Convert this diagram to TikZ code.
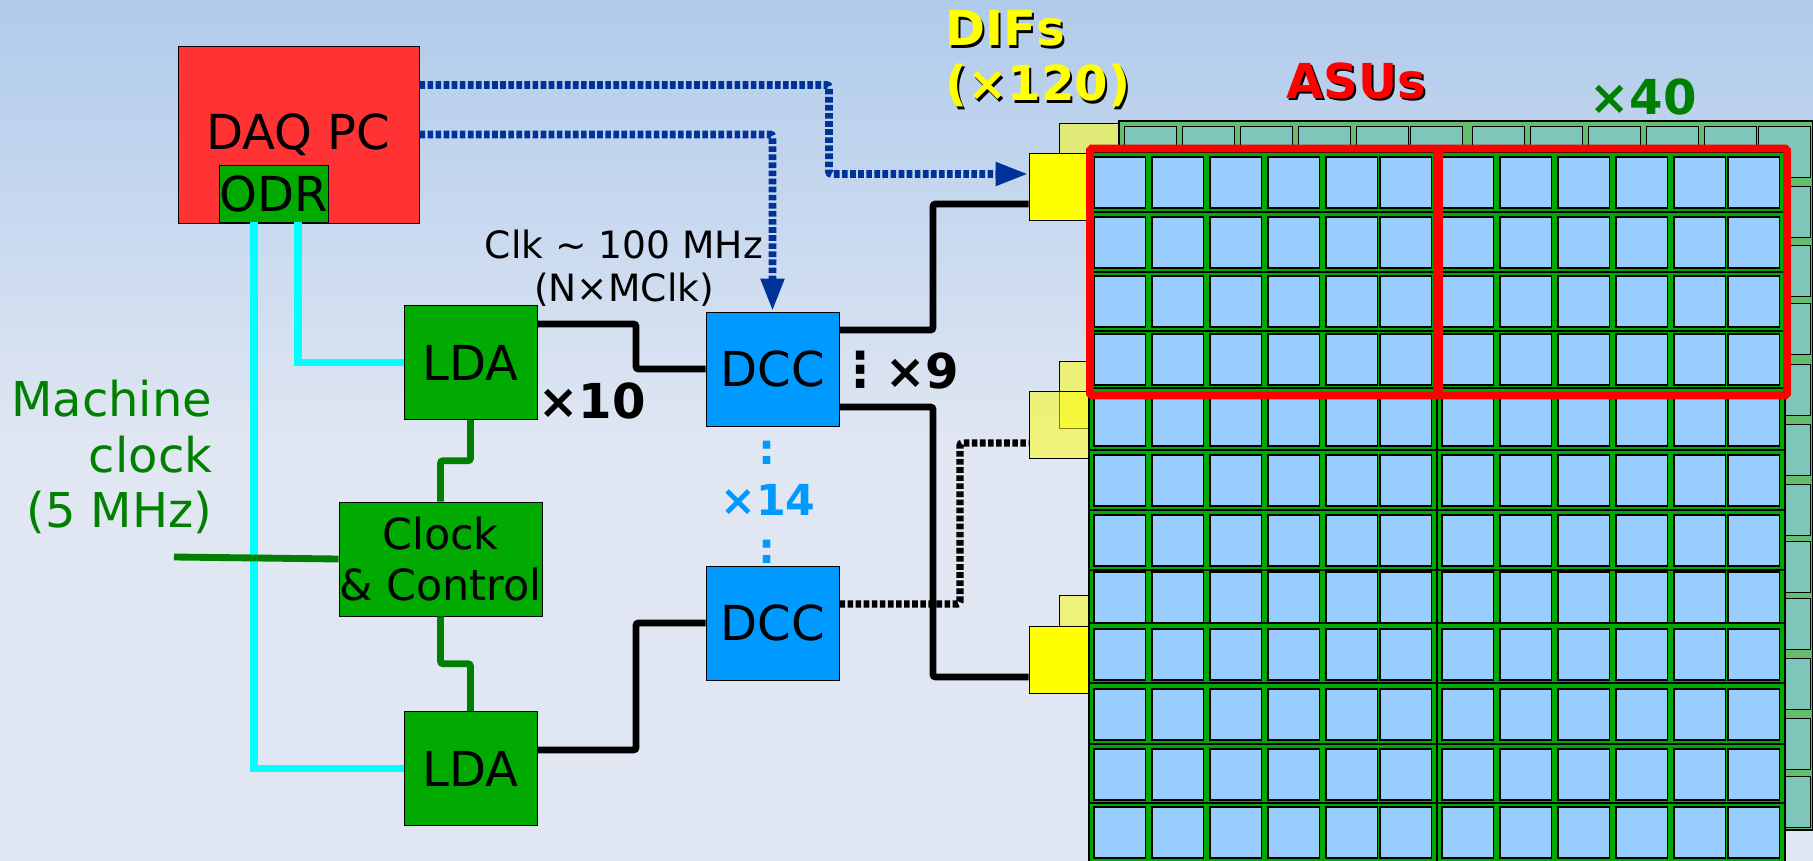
\documentclass[tikz,border=0pt]{standalone}
\usepackage{fontspec}
\setmainfont{DejaVu Sans}
\usetikzlibrary{arrows.meta,calc}
\definecolor{daqred}{HTML}{FF3333}
\definecolor{boxgreen}{HTML}{00AA00}
\definecolor{dccblue}{HTML}{0099FF}
\definecolor{cellblue}{HTML}{99CCFF}
\definecolor{netblue}{HTML}{003399}
\definecolor{labelgreen}{HTML}{008000}
\definecolor{backboard}{HTML}{64BE6E}
\definecolor{backcell}{HTML}{7DC6B9}
\definecolor{odrcyan}{HTML}{00FFFF}
\definecolor{difyellow}{HTML}{FFFF00}
\definecolor{frame}{HTML}{FF0000}
\newcommand{\shadowed}[2]{\leavevmode\rlap{\raisebox{-1.2pt}{\hspace{1.2pt}\color{black}#2}}{\color{#1}#2}}
\newcommand{\bigfont}{\fontsize{27.4}{30}\selectfont}
\begin{document}
\begin{tikzpicture}[x=0.02cm,y=-0.02cm]
\tikzstyle{every node}+=[inner sep=0pt,font=\bigfont]
\tikzstyle{block}=[draw=black,line width=0.5pt]
\tikzstyle{dif}=[block,fill=difyellow,minimum width=1.2cm,minimum height=1.34cm]
\tikzstyle{faded}=[fill opacity=0.5]
\tikzstyle{asucell}=[draw=black,line width=1pt,fill=cellblue,minimum width=1.03cm,minimum height=1.02cm]
\tikzstyle{backasu}=[asucell,fill=backcell,line width=0.8pt]
\tikzstyle{wire}=[black,line width=3.9pt,rounded corners=1.5pt]
\tikzstyle{dotwire}=[wire,line width=4.2pt,dash pattern=on 3.2pt off 1.4pt]
\tikzstyle{netwire}=[dotwire,netblue,line width=4.5pt,-{Triangle[length=18.8pt,width=12.5pt]}]
\tikzstyle{cyanwire}=[odrcyan,line width=4.2pt]
\tikzstyle{clockwire}=[labelgreen,line width=3.9pt,rounded corners=1.5pt]
\shade [top color={rgb,255:red,176;green,203;blue,235},bottom color={rgb,255:red,224;green,230;blue,242}] (0,0) rectangle (1813,440);
\fill [color={rgb,255:red,224;green,230;blue,242}] (0,439) rectangle (1813,861);
\useasboundingbox (0,0) rectangle (1813,861);
\node [dif,faded] (difback1) at (1089,156.5) {};
\node [dif,faded] (difback2) at (1089,394.5) {};
\node [dif,faded] (difback3) at (1089,628.5) {};
\fill [backboard,draw=black,line width=0.7pt] (1119,121) rectangle (1813,830);
\foreach \x in {1093,1151,1209,1267,1325,1379,1441,1499,1557,1615,1673,1727}
  \foreach \y in {156,216,275,333,394,454,514,571,628,688,748,806}
    \node [backasu,anchor=north west] (back-\x-\y) at (\x+31,\y-30) {};
\node [dif] (dif1) at (1059,186.5) {};
\node [dif,faded] (dif2) at (1059,425) {};
\node [dif] (dif3) at (1059,659.5) {};
\fill [boxgreen,draw=black,line width=0.7pt] (1089,152) rectangle (1785,870);
\foreach \y in {212,272,331,388,450,510,570,623,683,744,803}
  \draw [black,line width=0.8pt] (1089,\y) -- (1785,\y);
\draw [black,line width=0.8pt] (1437,152) -- (1437,861);
\foreach \x in {1093,1151,1209,1267,1325,1379,1441,1499,1557,1615,1673,1727}
  \foreach \y in {156,216,275,333,394,454,514,571,628,688,748,806}
    \node [asucell,anchor=north west] (asu-\x-\y) at (\x,\y) {};
\draw [frame,line width=4.3pt,rounded corners=1pt] (1090,148.5) rectangle (1787,395.5);
\draw [frame,line width=5.6pt] (1438,148.5) -- (1438,395.5);
\node [block,fill=daqred,minimum width=4.82cm,minimum height=3.54cm] (daq) at (298.5,134.5) {DAQ PC};
\node [block,fill=boxgreen,minimum width=2.14cm,minimum height=1.14cm] (odr) at (274,193.5) {ODR};
\node [block,fill=boxgreen,minimum width=2.66cm,minimum height=2.28cm] (lda1) at (470.5,362.5) {LDA};
\node [block,fill=boxgreen,minimum width=2.66cm,minimum height=2.28cm] (lda2) at (470.5,768.5) {LDA};
\node [block,fill=boxgreen,minimum width=4.06cm,minimum height=2.28cm,align=center,font=\fontsize{24.4}{29}\selectfont] (clock) at (440.5,559) {Clock\\\& Control};
\node [block,fill=dccblue,minimum width=2.66cm,minimum height=2.28cm] (dcc1) at (772.5,369) {DCC};
\node [block,fill=dccblue,minimum width=2.66cm,minimum height=2.28cm] (dcc2) at (772.5,623) {DCC};
\coordinate (clockin) at (174,557);
\draw [cyanwire] ($(odr.south)+(-20,0)$) |- (lda2.west);
\draw [cyanwire] ($(odr.south)+(24,0)$) |- (lda1.west);
\draw [clockwire] (lda1.south) |- ($(lda1.south)!0.5!(clock.north)$) -| (clock.north);
\draw [clockwire] (clock.south) |- ($(clock.south)!0.5!(lda2.north)$) -| (lda2.north);
\draw [labelgreen,line width=3.9pt] (clockin) -- (clock.west);
\draw [wire] ($(lda1.east)+(0,-38.5)$) -| (636,369) -- (dcc1.west);
\draw [wire] ($(lda2.east)+(0,-18.5)$) -| (636,623) -- (dcc2.west);
\draw [wire] ($(dcc1.east)+(0,-39)$) -- (933,330) |- ($(dif1.west)+(0,17.5)$);
\draw [wire] ($(dcc1.east)+(0,38)$) -- (933,407) |- ($(dif3.west)+(0,17.5)$);
\draw [dotwire] ($(dcc2.east)+(0,-19)$) -| (960,443) -- ($(dif2.west)+(0,18)$);
\draw [netwire] ($(daq.east)+(0,-49.5)$) -| (829,174) -- ($(dif1.west)+(0,-12.5)$);
\draw [netwire] (daq.east) -| (dcc1.north);
\node [anchor=base west,font=\bfseries\bigfont] (diflabel) at (945,46) {\shadowed{difyellow}{DIFs}};
\node [anchor=base west,font=\bfseries\bigfont] (diflabelb) at (945,101) {\shadowed{difyellow}{(×120)}};
\node [font=\bfseries\bigfont] (asulabel) at (1356,82) {\shadowed{frame}{ASUs}};
\node [labelgreen,font=\bfseries\bigfont] (asucount) at (1643,97) {×40};
\node [font=\bfseries\bigfont] (ldacount) at (592,401) {×10};
\node [font=\bfseries\bigfont] (difcount) at (922,371) {×9};
\node [font=\bfseries\bigfont] (difdots) at (861,370) {⋮};
\node [dccblue,font=\bfseries\fontsize{24.3}{26}\selectfont] (dcccount) at (768,500) {×14};
\node [dccblue,font=\bfseries\fontsize{24.3}{26}\selectfont] (dccdotsa) at (767,453) {:};
\node [dccblue,font=\bfseries\fontsize{24.3}{26}\selectfont] (dccdotsb) at (767,552) {:};
\node [align=center,font=\fontsize{21.4}{24.5}\selectfont] (clklabel) at (624,268) {Clk \textasciitilde{} 100 MHz\\(N×MClk)};
\node [labelgreen,align=right,font=\fontsize{27.3}{31.5}\selectfont,anchor=east] (machine) at (212.5,457) {Machine\\clock\\(5 MHz)};
\end{tikzpicture}
\end{document}
